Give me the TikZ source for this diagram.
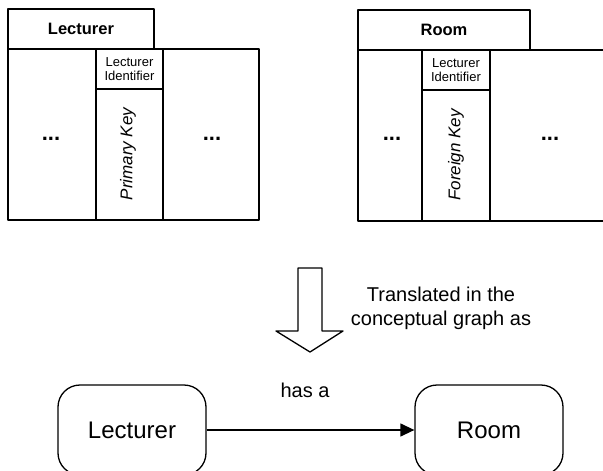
\documentclass[tikz,border=0pt]{standalone}
\usepackage{fontspec}
\setmainfont{Liberation Sans}
\usetikzlibrary{arrows.meta}
\tikzset{
  ln/.style={line width=1.3pt, line join=round},
  hdr/.style={font=\fontsize{16.5}{18}\selectfont\bfseries, inner sep=0pt},
  ident/.style={font=\fontsize{13}{14.5}\selectfont, align=center, inner sep=0pt},
  keytxt/.style={font=\fontsize{17}{19}\selectfont\itshape, rotate=90, inner sep=0pt},
  dots/.style={font=\fontsize{22}{24}\selectfont\bfseries, inner sep=0pt},
  rbox/.style={draw, line width=1.3pt, rounded corners=22pt, minimum width=148pt, minimum height=90pt, font=\fontsize{24}{26}\selectfont, inner sep=0pt},
  plain/.style={font=\fontsize{20}{24}\selectfont, align=center, inner sep=0pt},
}
\begin{document}
\begin{tikzpicture}[x=1pt,y=-1pt]
\useasboundingbox (0,0) rectangle (603,471);
\clip (0,0) rectangle (603,471);
\fill[white] (0,0) rectangle (603,471);
% Lecturer table
\draw[ln] (8,9) rectangle (154,49);
\draw[ln] (8,49) rectangle (259,220);
\draw[ln] (96,49) rectangle (163,220);
\draw[ln] (96,89) -- (163,89);
\node[hdr] (lhdr) at (81,29) {Lecturer};
\node[ident] (lid) at (129.5,69) {Lecturer\\Identifier};
\node[keytxt] (pk) at (128,154) {Primary Key};
\node[dots] (ld1) at (51,139) {...};
\node[dots] (ld2) at (212,139) {...};
% Room table
\draw[ln] (358,10) rectangle (530,50);
\draw[ln] (358,50) rectangle (615,221);
\draw[ln] (422,50) rectangle (490,221);
\draw[ln] (422,90) -- (490,90);
\node[hdr] (rhdr) at (444,30) {Room};
\node[ident] (rid) at (456,70) {Lecturer\\Identifier};
\node[keytxt] (fk) at (456,155) {Foreign Key};
\node[dots] (rd1) at (392,139) {...};
\node[dots] (rd2) at (550,139) {...};
% block arrow
\draw[ln] (298,268) -- (322,268) -- (322,331) -- (343,331) -- (310,352) -- (276,331) -- (298,331) -- cycle;
\node[plain] (trans) at (441,308) {Translated in the\\conceptual graph as};
% conceptual graph
\node[rbox] (lec) at (132,430) {Lecturer};
\node[rbox] (room) at (489,430) {Room};
\draw[ln, -{Triangle[length=14pt,width=13pt]}] (lec.east) -- (room.west);
\node[plain] (hasa) at (305,390) {has a};
\end{tikzpicture}
\end{document}
